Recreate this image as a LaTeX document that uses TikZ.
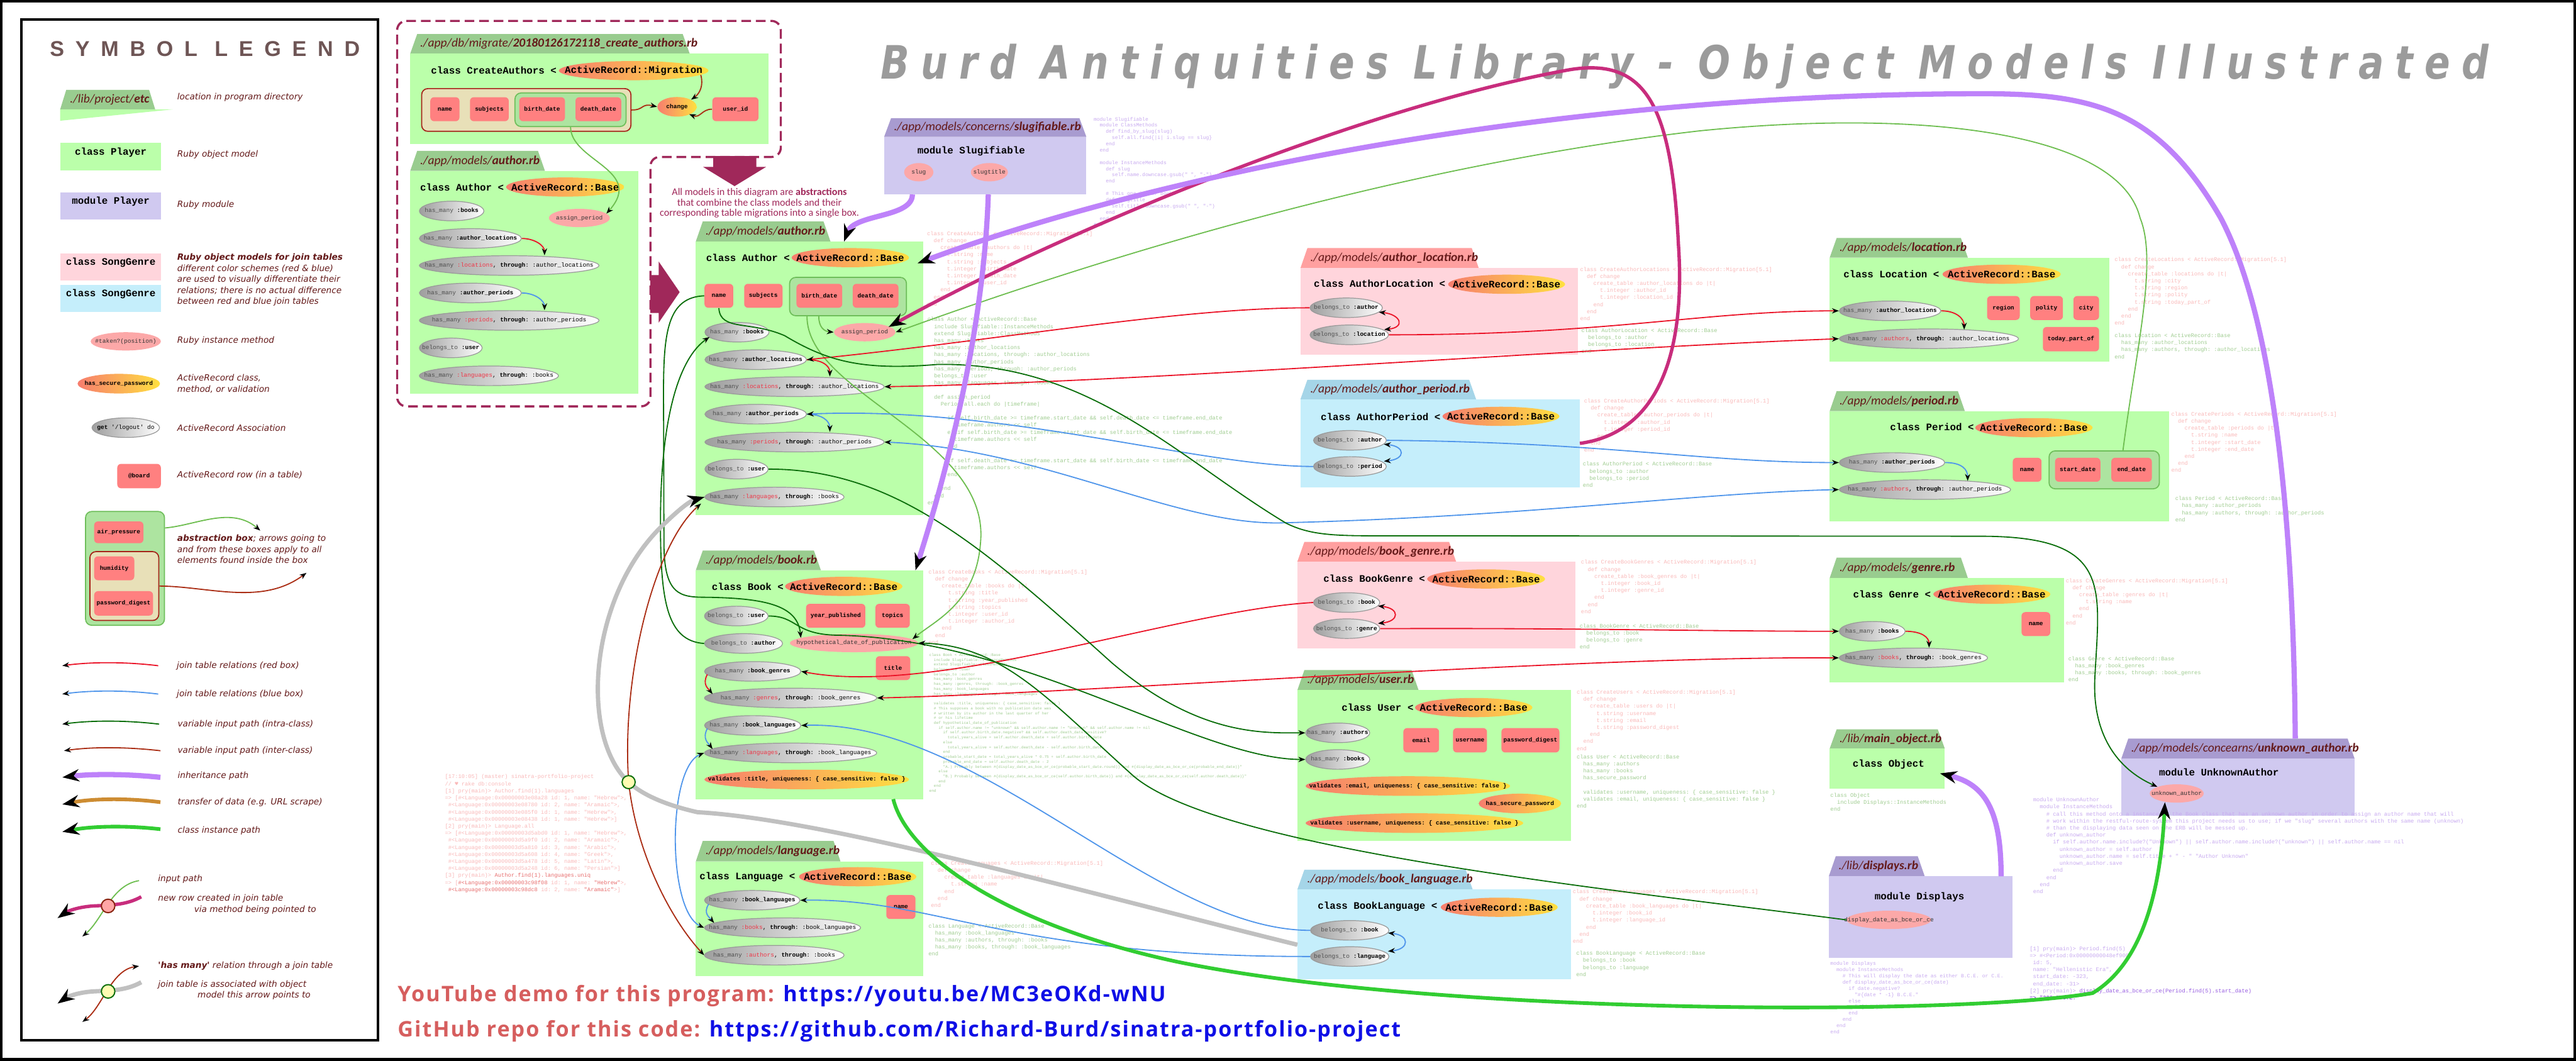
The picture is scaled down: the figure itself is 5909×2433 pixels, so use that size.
\documentclass[tikz,border=0pt]{standalone}
\usepackage{fontspec}
\setmainfont{DejaVu Sans}
\setmonofont{Liberation Mono}
\newfontfamily\tabfont{Carlito}
\newfontfamily\legfont{DejaVu Sans}
\newfontfamily\legtitlefont[LetterSpace=52]{Liberation Sans}
\newfontfamily\titlefont[FakeStretch=0.82,LetterSpace=25]{DejaVu Sans}
\newfontfamily\linkfont[LetterSpace=6]{Open Sans}
\newfontfamily\notefont{Carlito}
\newfontfamily\heartfont{DejaVu Sans Mono}
\usetikzlibrary{arrows.meta,shapes.geometric,positioning,calc}

\definecolor{tabgreen}{RGB}{153,204,143}
\definecolor{bodygreen}{RGB}{187,255,170}
\definecolor{tabpink}{RGB}{255,160,160}
\definecolor{bodypink}{RGB}{255,213,220}
\definecolor{tabblue}{RGB}{165,213,232}
\definecolor{bodyblue}{RGB}{197,238,251}
\definecolor{tabpurple}{RGB}{168,155,208}
\definecolor{bodypurple}{RGB}{208,201,240}
\definecolor{rowred}{RGB}{255,128,128}
\definecolor{methpink}{RGB}{252,168,168}
\definecolor{arsalmon}{RGB}{247,125,110}
\definecolor{aryellow}{RGB}{255,224,64}
\definecolor{absgreen}{RGB}{173,228,160}
\definecolor{absedge}{RGB}{110,190,90}
\definecolor{tanfill}{RGB}{232,224,184}
\definecolor{tanedge}{RGB}{165,35,25}
\definecolor{maroon}{RGB}{100,25,25}
\definecolor{wine}{RGB}{160,40,90}
\definecolor{joinred}{RGB}{235,20,40}
\definecolor{joinblue}{RGB}{80,150,235}
\definecolor{darkgr}{RGB}{10,110,10}
\definecolor{lightgr}{RGB}{110,190,80}
\definecolor{rust}{RGB}{170,45,20}
\definecolor{inhpurple}{RGB}{190,130,250}
\definecolor{amber}{RGB}{205,140,50}
\definecolor{instgreen}{RGB}{50,205,50}
\definecolor{rowmagenta}{RGB}{200,45,125}
\definecolor{assocgray}{RGB}{192,192,192}
\definecolor{kwgray}{RGB}{80,80,80}
\definecolor{codepink}{RGB}{250,185,185}
\definecolor{codepinkdark}{RGB}{232,110,110}
\definecolor{codegreen}{RGB}{160,205,145}
\definecolor{codepurple}{RGB}{200,170,240}
\definecolor{codepurpledark}{RGB}{150,90,225}
\definecolor{ytred}{RGB}{214,94,94}
\definecolor{urlblue}{RGB}{15,15,230}
\definecolor{titlegray}{RGB}{155,155,155}
\definecolor{legtitle}{RGB}{110,85,85}

\tikzset{
  tabtext/.style={font=\tabfont\itshape\fontsize{8}{9}\selectfont, text=maroon, inner sep=0pt},
  hdr/.style={font=\ttfamily\bfseries\fontsize{6.5}{7}\selectfont, inner sep=0pt},
  assoc/.style={ellipse, draw=black!40, line width=0.5pt, left color=black!38, right color=white, inner sep=0pt, minimum height=0.45cm},
  assoctxt/.style={font=\ttfamily\fontsize{3.9}{4.5}\selectfont, inner sep=0pt},
  arb/.style={ellipse, left color=arsalmon, right color=aryellow, inner sep=0pt, minimum height=0.44cm},
  arbtxt/.style={font=\ttfamily\bfseries\fontsize{6.5}{7}\selectfont, inner sep=0pt},
  arbsm/.style={ellipse, left color=arsalmon, right color=aryellow, inner sep=0pt, minimum height=0.45cm},
  arbsmtxt/.style={font=\ttfamily\bfseries\fontsize{3.9}{4.5}\selectfont, inner sep=0pt},
  meth/.style={ellipse, fill=methpink, inner sep=0pt, minimum height=0.42cm},
  methtxt/.style={font=\ttfamily\fontsize{3.9}{4.5}\selectfont, text=black!80, inner sep=0pt},
  rowbox/.style={rectangle, rounded corners=2.5pt, fill=rowred, inner sep=0pt, font=\ttfamily\bfseries\fontsize{3.9}{4.5}\selectfont},
  absbox/.style={rectangle, rounded corners=4pt, fill=absgreen, draw=absedge, line width=0.7pt, inner sep=0pt},
  tanbox/.style={rectangle, rounded corners=4pt, fill=tanfill, draw=tanedge, line width=0.7pt, inner sep=0pt},
  codetxt/.style={anchor=north west, align=left, inner sep=0pt, font=\ttfamily\fontsize{3.6}{4.6}\selectfont},
  codeslim/.style={anchor=north west, align=left, inner sep=0pt, font=\ttfamily\fontsize{3.3}{4.05}\selectfont},
  codesm/.style={anchor=north west, align=left, inner sep=0pt, font=\ttfamily\fontsize{2.5}{3.17}\selectfont},
  legtext/.style={anchor=west, inner sep=0pt, text=maroon, align=left, font=\legfont\itshape\fontsize{5.6}{7.2}\selectfont},
  redl/.style={draw=joinred, line width=0.75pt},
  bluel/.style={draw=joinblue, line width=0.75pt},
  dgrl/.style={draw=darkgr, line width=0.75pt},
  ltgl/.style={draw=lightgr, line width=0.75pt},
  rustl/.style={draw=rust, line width=0.75pt},
  inh/.style={draw=inhpurple, line width=3.4pt},
  scrape/.style={draw=amber, line width=2.4pt},
  inst/.style={draw=instgreen, line width=2.4pt},
  newrow/.style={draw=rowmagenta, line width=2.2pt},
  hasmany/.style={draw=assocgray, line width=2.8pt},
  arr/.style={-{Stealth[length=4.5pt,width=3.4pt,color=black]}},
  arrs/.style={{Stealth[length=4.5pt,width=3.4pt,color=black]}-},
  arrb/.style={{Stealth[length=4.5pt,width=3.4pt,color=black]}-{Stealth[length=4.5pt,width=3.4pt,color=black]}},
  bigarr/.style={-{Stealth[length=11pt,width=8pt,color=black]}}
}

% file tab: name, x left, x right, y top, y bottom, colour, text
\newcommand\ftab[7]{\fill[#6] (#2,#5) -- (#2+16,#4) -- (#3-16,#4) -- (#3,#5) -- cycle;
  \node[tabtext, anchor=west] (#1) at (#2+22,{(#4+#5)/2}) {#7};}
% class body: name, x1, y1, x2, y2, colour
\newcommand\panel[6]{\node[fill=#6, inner sep=0pt, outer sep=0pt, anchor=north west,
  minimum width={(#4-#2)*0.01cm}, minimum height={(#5-#3)*0.01cm}] (#1) at (#2,#3) {};}
% ellipse: style, name, x left, x right, y centre, text
\newcommand\ovalnode[6]{\node[#1, minimum width={(#4-#3)*0.01cm}] (#2) at ({(#3+#4)/2},#5) {};
  \node[#1txt] at (#2.center) {#6};}
% table row: name, x1, y1, x2, y2, text
\newcommand\rowcell[6]{\node[rowbox, minimum width={(#4-#2)*0.01cm}, minimum height={(#5-#3)*0.01cm}]
  (#1) at ({(#2+#4)/2},{(#3+#5)/2}) {#6};}
% abstraction box: name, x1, y1, x2, y2, style
\newcommand\abox[6]{\node[#6, anchor=north west, minimum width={(#4-#2)*0.01cm},
  minimum height={(#5-#3)*0.01cm}] (#1) at (#2,#3) {};}
\newcommand\hm{\textcolor{kwgray}{has\_many}}
\newcommand\bto{\textcolor{kwgray}{belongs\_to}}
\newcommand\sym[1]{\textbf{:#1}}
\newcommand\rs[1]{\textcolor{joinred!85}{:#1}}
\newcommand\thr{\textbf{through}:}
\newcommand\ind{\hspace*{1.2em}}

\begin{document}
\begin{tikzpicture}[x=0.01cm, y=-0.01cm]
\useasboundingbox (0,0) rectangle (5909,2433);
\fill[white] (0,0) rectangle (5909,2433);
\draw[line width=1.7pt] (3,3) rectangle (5906,2430);

% ---------------- legend ----------------
\draw[line width=1.8pt] (49,45) rectangle (867,2386);
\node[font=\legtitlefont\bfseries\fontsize{14}{14}\selectfont, text=legtitle] (legtitle) at (470,112) {SYMBOL LEGEND};

\fill[tabgreen] (138,251) -- (152,206) -- (342,206) -- (356,251) -- cycle;
\fill[bodygreen] (138,251) -- (396,251) -- (138,277) -- cycle;
\node[tabtext, anchor=west] (lg_tab) at (160,229) {./lib/project/\textbf{etc}};
\node[legtext] (ld_tab) at (406,223) {location in program directory};

\panel{lg_class}{138}{327}{370}{391}{bodygreen}
\node[hdr] at (254,349) {class Player};
\node[legtext] (ld_class) at (406,355) {Ruby object model};
\panel{lg_mod}{138}{441}{370}{504}{bodypurple}
\node[hdr] at (254,462) {module Player};
\node[legtext] (ld_mod) at (406,470) {Ruby module};
\panel{lg_pink}{138}{582}{370}{644}{bodypink}
\node[hdr] at (254,602) {class SongGenre};
\panel{lg_blue}{138}{654}{370}{716}{bodyblue}
\node[hdr] at (254,674) {class SongGenre};
\node[legtext, anchor=north west] (ld_join) at (406,581) {\textbf{Ruby object models for join tables}\\different color schemes (red \& blue)\\are used to visually differentiate their\\relations; there is no actual difference\\between red and blue join tables};

\ovalnode{meth}{lg_meth}{208}{369}{783}{\#taken?(position)}
\node[legtext] (ld_meth) at (406,781) {Ruby instance method};
\ovalnode{arbsm}{lg_ar}{178}{367}{880}{has\_secure\_password}
\node[legtext] (ld_ar) at (406,880) {ActiveRecord class,\\method, or validation};
\ovalnode{assoc}{lg_assoc}{211}{366}{981}{\textbf{get} '/logout' do}
\node[legtext] (ld_assoc) at (406,982) {ActiveRecord Association};
\rowcell{lg_row}{269}{1064}{369}{1120}{@board}
\node[legtext] (ld_row) at (406,1090) {ActiveRecord row (in a table)};

\abox{lg_abs}{195}{1172}{376}{1433}{absbox}
\rowcell{lg_air}{216}{1196}{329}{1246}{air\_pressure}
\abox{lg_tan}{205}{1264}{363}{1422}{tanbox}
\rowcell{lg_hum}{216}{1276}{308}{1331}{humidity}
\rowcell{lg_pw}{216}{1356}{351}{1412}{password\_digest}
\node[legtext, anchor=north west] (ld_abs) at (406,1226) {\textbf{abstraction box}; arrows going to\\and from these boxes apply to all\\elements found inside the box};
\draw[ltgl,arr] (lg_abs.east |- 0,1211) .. controls (450,1205) and (530,1160) .. (597,1217);
\draw[rustl,arr] (lg_tan.east) .. controls (480,1345) and (600,1390) .. (703,1314);

\draw[redl,arr] (363,1527) .. controls (290,1518) and (210,1518) .. (143,1527);
\node[legtext] (ld_red) at (405,1527) {join table relations (red box)};
\draw[bluel,arr] (363,1592) .. controls (290,1583) and (210,1583) .. (143,1592);
\node[legtext] (ld_blue) at (405,1592) {join table relations (blue box)};
\draw[dgrl,arr] (365,1661) .. controls (290,1652) and (210,1652) .. (143,1661);
\node[legtext] (ld_dgr) at (407,1661) {variable input path (intra-class)};
\draw[rustl,arr] (368,1722) .. controls (290,1713) and (210,1713) .. (147,1722);
\node[legtext] (ld_rust) at (407,1722) {variable input path (inter-class)};
\draw[inh,bigarr] (368,1783) .. controls (290,1775) and (210,1775) .. (143,1783);
\node[legtext] (ld_inh) at (407,1780) {inheritance path};
\draw[scrape,bigarr] (368,1840) .. controls (290,1830) and (210,1832) .. (143,1845);
\node[legtext] (ld_scrape) at (407,1841) {transfer of data (e.g. URL scrape)};
\draw[inst,bigarr] (368,1902) .. controls (290,1893) and (210,1895) .. (143,1908);
\node[legtext] (ld_inst) at (407,1906) {class instance path};

\draw[ltgl,arr] (319,2020) .. controls (255,2030) and (235,2110) .. (189,2148);
\draw[newrow,bigarr] (324,2057) .. controls (290,2076) and (255,2076) .. (215,2078) .. controls (180,2080) and (155,2090) .. (132,2106);
\node[circle, draw=rust!80!black, fill=rowred!70!white, line width=0.8pt, minimum width=0.31cm, minimum height=0.28cm, inner sep=0pt] (lg_c1) at (248,2078) {};
\node[legtext] (ld_in) at (362,2017) {input path};
\node[legtext, anchor=north west] (ld_nr) at (362,2051) {new row created in join table\\\hspace*{4.2em}via method being pointed to};

\draw[hasmany,bigarr] (324,2253) .. controls (290,2272) and (255,2272) .. (215,2274) .. controls (180,2276) and (155,2286) .. (132,2302);
\draw[rustl,arrb] (189,2344) .. controls (235,2310) and (255,2225) .. (319,2216);
\node[circle, draw=darkgr, fill=yellow!30!white, line width=0.8pt, minimum width=0.31cm, minimum height=0.28cm, inner sep=0pt] (lg_c2) at (248,2274) {};
\node[legtext] (ld_hm) at (362,2216) {\textbf{'has many'} relation through a join table};
\node[legtext, anchor=north west] (ld_hm2) at (362,2248) {join table is associated with object\\\hspace*{4.6em}model this arrow points to};

% ---------------- title and links ----------------
\node[font=\titlefont\bfseries\itshape\fontsize{30}{31}\selectfont, text=titlegray] (title) at (3865,152) {Burd Antiquities Library - Object Models Illustrated};
\node[anchor=base west, font=\linkfont\bfseries\fontsize{14}{16}\selectfont] (yt) at (900,2298) {\textcolor{ytred}{YouTube demo for this program:} \textcolor{urlblue}{https://youtu.be/MC3eOKd-wNU}};
\node[anchor=base west, font=\linkfont\bfseries\fontsize{14}{16}\selectfont] (gh) at (900,2378) {\textcolor{ytred}{GitHub repo for this code:} \textcolor{urlblue}{https://github.com/Richard-Burd/sinatra-portfolio-project}};

% ---------------- migration + old author (dashed group) ----------------
\draw[wine, line width=1.4pt, dash pattern=on 6.3pt off 3.2pt, rounded corners=6pt] (911,48) -- (1791,48) -- (1791,360) -- (1492,360) -- (1492,932) -- (911,932) -- cycle;
\fill[wine] (1636,358) -- (1735,358) -- (1735,383) -- (1757,383) -- (1685,427) -- (1613,383) -- (1636,383) -- cycle;
\fill[wine] (1492,631) -- (1511,631) -- (1511,600) -- (1559,670) -- (1511,740) -- (1511,718) -- (1492,718) -- cycle;
\node[font=\notefont\fontsize{6.6}{6.7}\selectfont, text=wine, align=center] (note) at (1742,466) {All models in this diagram are \textbf{abstractions}\\that combine the class models and their\\corresponding table migrations into a single box.};

\ftab{mg_tab}{941}{1582}{78}{123}{tabgreen}{./app/db/migrate/\textbf{20180126172118\_create\_authors.rb}}
\panel{mg}{941}{123}{1763}{330}{bodygreen}
\node[hdr, anchor=west] (mg_hdr) at (988,161) {class CreateAuthors <};
\ovalnode{arb}{mg_ar}{1282}{1625}{162}{ActiveRecord::Migration}
\abox{mg_tan}{966}{202}{1446}{300}{tanbox}
\rowcell{mg_name}{987}{223}{1054}{278}{name}
\rowcell{mg_subj}{1078}{223}{1167}{278}{subjects}
\abox{mg_abs}{1180}{212}{1435}{289}{absbox}
\rowcell{mg_birth}{1191}{223}{1296}{278}{birth\_date}
\rowcell{mg_death}{1320}{223}{1425}{278}{death\_date}
\ovalnode{arbsm}{mg_chg}{1508}{1598}{245}{change}
\rowcell{mg_uid}{1634}{223}{1740}{278}{user\_id}

\ftab{oa_tab}{941}{1250}{346}{392}{tabgreen}{./app/models/\textbf{author.rb}}
\panel{oa}{941}{392}{1464}{903}{bodygreen}
\node[hdr, anchor=west] (oa_hdr) at (963,429) {class Author <};
\ovalnode{arb}{oa_ar}{1161}{1432}{429}{ActiveRecord::Base}
\ovalnode{meth}{oa_asg}{1259}{1399}{500}{assign\_period}
\ovalnode{assoc}{oa_books}{962}{1110}{484}{\hm{} \sym{books}}
\ovalnode{assoc}{oa_al}{962}{1196}{547}{\hm{} \sym{author\_locations}}
\ovalnode{assoc}{oa_lt}{962}{1374}{609}{\hm{} \rs{locations}, \thr{} :author\_locations}
\ovalnode{assoc}{oa_ap}{962}{1196}{672}{\hm{} \sym{author\_periods}}
\ovalnode{assoc}{oa_pt}{962}{1374}{735}{\hm{} \rs{periods}, \thr{} :author\_periods}
\ovalnode{assoc}{oa_btu}{962}{1106}{798}{\bto{} \sym{user}}
\ovalnode{assoc}{oa_lb}{962}{1281}{862}{\hm{} \rs{languages}, \thr{} :books}

% ---------------- author.rb ----------------
\ftab{ma_tab}{1596}{1905}{508}{554}{tabgreen}{./app/models/\textbf{author.rb}}
\panel{ma}{1596}{554}{2118}{1182}{bodygreen}
\node[hdr, anchor=west] (ma_hdr) at (1619,591) {class Author <};
\ovalnode{arb}{ma_ar}{1816}{2085}{591}{ActiveRecord::Base}
\rowcell{ma_name}{1616}{651}{1682}{706}{name}
\rowcell{ma_subj}{1707}{651}{1795}{706}{subjects}
\abox{ma_abs}{1810}{635}{2078}{723}{absbox}
\rowcell{ma_birth}{1827}{651}{1932}{706}{birth\_date}
\rowcell{ma_death}{1956}{651}{2061}{706}{death\_date}
\ovalnode{meth}{ma_asg}{1913}{2054}{762}{assign\_period}
\ovalnode{assoc}{ma_books}{1617}{1764}{762}{\hm{} \sym{books}}
\ovalnode{assoc}{ma_al}{1617}{1850}{825}{\hm{} \sym{author\_locations}}
\ovalnode{assoc}{ma_lt}{1617}{2028}{887}{\hm{} \rs{locations}, \thr{} :author\_locations}
\ovalnode{assoc}{ma_ap}{1617}{1850}{950}{\hm{} \sym{author\_periods}}
\ovalnode{assoc}{ma_pt}{1617}{2028}{1014}{\hm{} \rs{periods}, \thr{} :author\_periods}
\ovalnode{assoc}{ma_btu}{1617}{1762}{1076}{\bto{} \sym{user}}
\ovalnode{assoc}{ma_lb}{1617}{1936}{1140}{\hm{} \rs{languages}, \thr{} :books}

% ---------------- book.rb ----------------
\ftab{bk_tab}{1596}{1883}{1263}{1308}{tabgreen}{./app/models/\textbf{book.rb}}
\panel{bk}{1596}{1308}{2118}{1833}{bodygreen}
\node[hdr, anchor=west] (bk_hdr) at (1632,1345) {class Book <};
\ovalnode{arb}{bk_ar}{1801}{2070}{1345}{ActiveRecord::Base}
\rowcell{bk_year}{1849}{1385}{1985}{1440}{year\_published}
\rowcell{bk_top}{2008}{1385}{2087}{1440}{topics}
\rowcell{bk_title}{2009}{1505}{2088}{1560}{title}
\ovalnode{assoc}{bk_btu}{1616}{1762}{1413}{\bto{} \sym{user}}
\ovalnode{assoc}{bk_bta}{1616}{1795}{1476}{\bto{} \sym{author}}
\ovalnode{meth}{hyp}{1812}{2106}{1475}{hypothetical\_date\_of\_publication}
\ovalnode{assoc}{bk_bg}{1616}{1837}{1540}{\hm{} \sym{book\_genres}}
\ovalnode{assoc}{bk_gt}{1616}{2011}{1601}{\hm{} \rs{genres}, \thr{} :book\_genres}
\ovalnode{assoc}{bk_bl}{1616}{1837}{1664}{\hm{} \sym{book\_languages}}
\ovalnode{assoc}{bk_lt}{1616}{2011}{1727}{\hm{} \rs{languages}, \thr{} :book\_languages}
\ovalnode{arbsm}{bk_val}{1616}{2085}{1788}{validates :title, uniqueness: \{ case\_sensitive: false \}}

% ---------------- language.rb ----------------
\ftab{lg_tab}{1596}{1928}{1929}{1976}{tabgreen}{./app/models/\textbf{language.rb}}
\panel{lg}{1596}{1976}{2118}{2239}{bodygreen}
\node[hdr, anchor=west] (lg_hdr) at (1604,2011) {class Language <};
\ovalnode{arb}{lg_ar}{1833}{2102}{2011}{ActiveRecord::Base}
\rowcell{lg_name}{2033}{2053}{2100}{2108}{name}
\ovalnode{assoc}{lg_bl}{1616}{1835}{2065}{\hm{} \sym{book\_languages}}
\ovalnode{assoc}{lg_bt}{1616}{1974}{2128}{\hm{} \rs{books}, \thr{} :book\_languages}
\ovalnode{assoc}{lg_at}{1616}{1936}{2191}{\hm{} \rs{authors}, \thr{} :books}

% ---------------- slugifiable.rb ----------------
\ftab{sl_tab}{2028}{2492}{271}{314}{tabpurple}{./app/models/concerns/\textbf{slugifiable.rb}}
\panel{sl}{2028}{314}{2492}{446}{bodypurple}
\node[hdr] (sl_hdr) at (2228,347) {module Slugifiable};
\ovalnode{meth}{sl_slug}{2074}{2141}{395}{slug}
\ovalnode{meth}{sl_title}{2227}{2312}{395}{slugtitle}

% ---------------- join tables ----------------
\ftab{al_tab}{2983}{3392}{569}{615}{tabpink}{./app/models/\textbf{author\_location.rb}}
\panel{al}{2983}{615}{3620}{813}{bodypink}
\node[hdr, anchor=west] (al_hdr) at (3013,651) {class AuthorLocation <};
\ovalnode{arb}{al_ar}{3322}{3590}{652}{ActiveRecord::Base}
\ovalnode{assoc}{al_bta}{3005}{3171}{706}{\bto{} \sym{author}}
\ovalnode{assoc}{al_btl}{3005}{3185}{768}{\bto{} \sym{location}}

\ftab{ap_tab}{2983}{3386}{871}{916}{tabblue}{./app/models/\textbf{author\_period.rb}}
\panel{ap}{2983}{916}{3624}{1118}{bodyblue}
\node[hdr, anchor=west] (ap_hdr) at (3029,956) {class AuthorPeriod <};
\ovalnode{arb}{ap_ar}{3309}{3577}{955}{ActiveRecord::Base}
\ovalnode{assoc}{ap_bta}{3013}{3180}{1010}{\bto{} \sym{author}}
\ovalnode{assoc}{ap_btp}{3013}{3180}{1070}{\bto{} \sym{period}}

\ftab{bg_tab}{2976}{3340}{1243}{1288}{tabpink}{./app/models/\textbf{book\_genre.rb}}
\panel{bg}{2976}{1288}{3614}{1487}{bodypink}
\node[hdr, anchor=west] (bg_hdr) at (3035,1327) {class BookGenre <};
\ovalnode{arb}{bg_ar}{3274}{3544}{1328}{ActiveRecord::Base}
\ovalnode{assoc}{bg_btb}{3013}{3165}{1382}{\bto{} \sym{book}}
\ovalnode{assoc}{bg_btg}{3013}{3165}{1442}{\bto{} \sym{genre}}

\ftab{us_tab}{2976}{3254}{1537}{1583}{tabgreen}{./app/models/\textbf{user.rb}}
\panel{us}{2976}{1583}{3604}{1929}{bodygreen}
\node[hdr, anchor=west] (us_hdr) at (3077,1623) {class User <};
\ovalnode{arb}{us_ar}{3246}{3515}{1623}{ActiveRecord::Base}
\ovalnode{assoc}{us_ha}{2995}{3142}{1681}{\hm{} \sym{authors}}
\ovalnode{assoc}{us_hb}{2995}{3142}{1742}{\hm{} \sym{books}}
\rowcell{us_email}{3219}{1670}{3301}{1726}{email}
\rowcell{us_user}{3333}{1670}{3411}{1726}{username}
\rowcell{us_pw}{3444}{1670}{3577}{1726}{password\_digest}
\ovalnode{arbsm}{us_ve}{2995}{3464}{1803}{validates :email, uniqueness: \{ case\_sensitive: false \}}
\ovalnode{arbsm}{us_sp}{3392}{3581}{1843}{has\_secure\_password}
\ovalnode{arbsm}{us_vu}{2995}{3494}{1888}{validates :username, uniqueness: \{ case\_sensitive: false \}}

\ftab{bl_tab}{2976}{3378}{1995}{2040}{tabblue}{./app/models/\textbf{book\_language.rb}}
\panel{bl}{2976}{2040}{3604}{2246}{bodyblue}
\node[hdr, anchor=west] (bl_hdr) at (3022,2080) {class BookLanguage <};
\ovalnode{arb}{bl_ar}{3305}{3573}{2081}{ActiveRecord::Base}
\ovalnode{assoc}{bl_btb}{3006}{3186}{2134}{\bto{} \sym{book}}
\ovalnode{assoc}{bl_btl}{3006}{3186}{2194}{\bto{} \sym{language}}

% ---------------- right column ----------------
\ftab{loc_tab}{4197}{4514}{546}{591}{tabgreen}{./app/models/\textbf{location.rb}}
\panel{loc}{4197}{591}{4839}{830}{bodygreen}
\node[hdr, anchor=west] (loc_hdr) at (4228,629) {class Location <};
\ovalnode{arb}{loc_ar}{4456}{4727}{629}{ActiveRecord::Base}
\rowcell{loc_reg}{4558}{679}{4633}{734}{region}
\rowcell{loc_pol}{4657}{679}{4732}{734}{polity}
\rowcell{loc_city}{4756}{679}{4815}{734}{city}
\rowcell{loc_today}{4686}{750}{4815}{806}{today\_part\_of}
\ovalnode{assoc}{loc_al}{4219}{4452}{713}{\hm{} \sym{author\_locations}}
\ovalnode{assoc}{loc_at}{4219}{4630}{777}{\hm{} \rs{authors}, \thr{} :author\_locations}

\ftab{pe_tab}{4197}{4507}{897}{943}{tabgreen}{./app/models/\textbf{period.rb}}
\panel{pe}{4197}{943}{4976}{1196}{bodygreen}
\node[hdr, anchor=west] (pe_hdr) at (4335,980) {class Period <};
\ovalnode{arb}{pe_ar}{4531}{4800}{981}{ActiveRecord::Base}
\ovalnode{assoc}{pe_ap}{4219}{4461}{1061}{\hm{} \sym{author\_periods}}
\ovalnode{assoc}{pe_at}{4219}{4612}{1123}{\hm{} \rs{authors}, \thr{} :author\_periods}
\rowcell{pe_name}{4617}{1050}{4683}{1105}{name}
\abox{pe_abs}{4699}{1033}{4952}{1120}{absbox}
\rowcell{pe_start}{4714}{1050}{4818}{1105}{start\_date}
\rowcell{pe_end}{4843}{1050}{4936}{1105}{end\_date}

\ftab{gn_tab}{4197}{4514}{1279}{1326}{tabgreen}{./app/models/\textbf{genre.rb}}
\panel{gn}{4197}{1326}{4734}{1565}{bodygreen}
\node[hdr, anchor=west] (gn_hdr) at (4250,1363) {class Genre <};
\ovalnode{arb}{gn_ar}{4435}{4703}{1363}{ActiveRecord::Base}
\rowcell{gn_name}{4637}{1404}{4703}{1459}{name}
\ovalnode{assoc}{gn_b}{4219}{4370}{1448}{\hm{} \sym{books}}
\ovalnode{assoc}{gn_bt}{4219}{4559}{1509}{\hm{} \rs{books}, \thr{} :book\_genres}

\ftab{ob_tab}{4197}{4461}{1673}{1717}{tabgreen}{./lib/\textbf{main\_object.rb}}
\panel{ob}{4197}{1717}{4461}{1809}{bodygreen}
\node[hdr] (ob_hdr) at (4332,1753) {class Object};

\ftab{ua_tab}{4866}{5401}{1694}{1740}{tabpurple}{./app/models/concearns/\textbf{unknown\_author.rb}}
\panel{ua}{4866}{1740}{5401}{1871}{bodypurple}
\node[hdr, anchor=west] (ua_hdr) at (4952,1772) {module UnknownAuthor};
\ovalnode{meth}{ua_m}{4931}{5055}{1820}{unknown\_author}

\ftab{ds_tab}{4195}{4415}{1964}{2010}{tabpurple}{./lib/\textbf{displays.rb}}
\panel{ds}{4195}{2010}{4617}{2197}{bodypurple}
\node[hdr] (ds_hdr) at (4403,2058) {module Displays};
\ovalnode{meth}{ds_dd}{4236}{4430}{2110}{display\_date\_as\_bce\_or\_ce}

% ---------------- faint source code ----------------
\node[codeslim, text=codepurple] (c_slug) at (2508,268) {module Slugifiable\\\ind module ClassMethods\\\ind\ind def find\_by\_slug(slug)\\\ind\ind\ind self.all.find\{|i| i.slug == slug\}\\\ind\ind end\\\ind end\\\mbox{}\\\ind module InstanceMethods\\\ind\ind def slug\\\ind\ind\ind self.name.downcase.gsub(" ", "-")\\\ind\ind end\\\mbox{}\\\ind\ind \# This one is for books\\\ind\ind def slugtitle\\\ind\ind\ind self.title.downcase.gsub(" ", "-")\\\ind\ind end\\\ind end\\end};
\node[codetxt, text=codepink] (c_amig) at (2126,530) {class CreateAuthors < ActiveRecord::Migration[5.1]\\\ind def change\\\ind\ind create\_table :authors do |t|\\\ind\ind\ind t.string :name\\\ind\ind\ind t.string :subjects\\\ind\ind\ind t.integer :birth\_date\\\ind\ind\ind t.integer :death\_date\\\ind\ind\ind t.integer :user\_id\\\ind\ind end\\\ind end\\end};
\node[codetxt, text=codegreen] (c_acls) at (2127,727) {class Author < ActiveRecord::Base\\\ind include Slugifiable::InstanceMethods\\\ind extend Slugifiable::ClassMethods\\\ind has\_many :books\\\ind has\_many :author\_locations\\\ind has\_many :locations, through: :author\_locations\\\ind has\_many :author\_periods\\\ind has\_many :periods, through: :author\_periods\\\ind belongs\_to :user\\\ind has\_many :languages, through: :books\\\mbox{}\\\ind def assign\_period\\\ind\ind Period.all.each do |timeframe|\\\mbox{}\\\ind\ind\ind if self.birth\_date >= timeframe.start\_date \&\& self.death\_date <= timeframe.end\_date\\\ind\ind\ind\ind timeframe.authors << self\\\ind\ind\ind elsif self.birth\_date >= timeframe.start\_date \&\& self.birth\_date <= timeframe.end\_date\\\ind\ind\ind\ind timeframe.authors << self\\\ind\ind\ind end\\\mbox{}\\\ind\ind\ind if self.death\_date >= timeframe.start\_date \&\& self.birth\_date <= timeframe.end\_date\\\ind\ind\ind\ind timeframe.authors << self\\\ind\ind\ind end\\\mbox{}\\\ind\ind end\\\ind end\\end};
\node[codetxt, text=codepink] (c_bmig) at (2129,1306) {class CreateBooks < ActiveRecord::Migration[5.1]\\\ind def change\\\ind\ind create\_table :books do |t|\\\ind\ind\ind t.string :title\\\ind\ind\ind t.string :year\_published\\\ind\ind\ind t.string :topics\\\ind\ind\ind t.integer :user\_id\\\ind\ind\ind t.integer :author\_id\\\ind\ind end\\\ind end\\end};
\node[codesm, text=codegreen] (c_bcls) at (2131,1498) {class Book < ActiveRecord::Base\\\ind include Slugifiable::InstanceMethods\\\ind extend Slugifiable::ClassMethods\\\ind belongs\_to :user\\\ind belongs\_to :author\\\ind has\_many :book\_genres\\\ind has\_many :genres, through: :book\_genres\\\ind has\_many :book\_languages\\\ind has\_many :languages, through: :book\_languages\\\mbox{}\\\ind validates :title, uniqueness: \{ case\_sensitive: false \}\\\ind \# This supposes a book with no publication date was\\\ind \# written by its author in the last quarter of her\\\ind \# or his lifetime\\\ind def hypothetical\_date\_of\_publication\\\ind\ind if self.author.name != "unknown" \&\& self.author.name != "Unknown" \&\& self.author.name != nil\\\ind\ind\ind if self.author.birth\_date.negative? \&\& self.author.death\_date.positive?\\\ind\ind\ind\ind total\_years\_alive = self.author.death\_date + self.author.birth\_date\\\ind\ind\ind else\\\ind\ind\ind\ind total\_years\_alive = self.author.death\_date - self.author.birth\_date\\\ind\ind\ind end\\\ind\ind\ind probable\_start\_date = total\_years\_alive * 0.75 + self.author.birth\_date\\\ind\ind\ind probable\_end\_date = self.author.death\_date - 2\\\ind\ind\ind "A.) Probably between \#\{display\_date\_as\_bce\_or\_ce(probable\_start\_date.round)\} and \#\{display\_date\_as\_bce\_or\_ce(probable\_end\_date)\}"\\\ind\ind else\\\ind\ind\ind "B.) Probably between \#\{display\_date\_as\_bce\_or\_ce(self.author.birth\_date)\} and \#\{display\_date\_as\_bce\_or\_ce(self.author.death\_date)\}"\\\ind\ind end\\\ind end\\end};
\node[codetxt, text=codepink] (c_lmig) at (2135,1974) {class CreateLanguages < ActiveRecord::Migration[5.1]\\\ind def change\\\ind\ind create\_table :languages do |t|\\\ind\ind\ind t.string :name\\\ind\ind end\\\ind end\\end};
\node[codetxt, text=codegreen] (c_lcls) at (2129,2118) {class Language < ActiveRecord::Base\\\ind has\_many :book\_languages\\\ind has\_many :authors, through: :books\\\ind has\_many :books, through: :book\_languages\\end};
\node[codetxt, text=codepink] (c_pry) at (1020,1776) {{}[17:10:05] (master) sinatra-portfolio-project\\// {\heartfont ♥} rake db:console\\{}[1] pry(main)> Author.find(1).languages\\=> [\#<Language:0x00000003e08a28 id: 1, name: "Hebrew">,\\\hspace*{0.6em}\#<Language:0x00000003e08780 id: 2, name: "Aramaic">,\\\hspace*{0.6em}\#<Language:0x00000003e085f0 id: 1, name: "Hebrew">,\\\hspace*{0.6em}\#<Language:0x00000003e08438 id: 1, name: "Hebrew">]\\{}[2] pry(main)> Language.all\\=> [\#<Language:0x00000003d5abd0 id: 1, name: "Hebrew">,\\\hspace*{0.6em}\#<Language:0x00000003d5a9f0 id: 2, name: "Aramaic">,\\\hspace*{0.6em}\#<Language:0x00000003d5a810 id: 3, name: "Arabic">,\\\hspace*{0.6em}\#<Language:0x00000003d5a608 id: 4, name: "Greek">,\\\hspace*{0.6em}\#<Language:0x00000003d5a478 id: 5, name: "Latin">,\\\hspace*{0.6em}\#<Language:0x00000003d5a248 id: 6, name: "Persian">]\\{}[3] pry(main)> \textcolor{codepinkdark}{Author.find(1).languages.uniq}\\=> [\textcolor{codepinkdark}{\#<Language:0x00000003c98f08} id: 1, name: \textcolor{codepinkdark}{"Hebrew"}>,\\\hspace*{0.6em}\textcolor{codepinkdark}{\#<Language:0x00000003c98dc8} id: 2, name: \textcolor{codepinkdark}{"Aramaic"}>]};
\node[codetxt, text=codepink] (c_almig) at (3624,612) {class CreateAuthorLocations < ActiveRecord::Migration[5.1]\\\ind def change\\\ind\ind create\_table :author\_locations do |t|\\\ind\ind\ind t.integer :author\_id\\\ind\ind\ind t.integer :location\_id\\\ind\ind end\\\ind end\\end};
\node[codetxt, text=codegreen] (c_alcls) at (3627,752) {class AuthorLocation < ActiveRecord::Base\\\ind belongs\_to :author\\\ind belongs\_to :location\\end};
\node[codetxt, text=codepink] (c_apmig) at (3633,914) {class CreateAuthorPeriods < ActiveRecord::Migration[5.1]\\\ind def change\\\ind\ind create\_table :author\_periods do |t|\\\ind\ind\ind t.integer :author\_id\\\ind\ind\ind t.integer :period\_id\\\ind\ind end\\\ind end\\end};
\node[codetxt, text=codegreen] (c_apcls) at (3630,1059) {class AuthorPeriod < ActiveRecord::Base\\\ind belongs\_to :author\\\ind belongs\_to :period\\end};
\node[codetxt, text=codepink] (c_bgmig) at (3626,1284) {class CreateBookGenres < ActiveRecord::Migration[5.1]\\\ind def change\\\ind\ind create\_table :book\_genres do |t|\\\ind\ind\ind t.integer :book\_id\\\ind\ind\ind t.integer :genre\_id\\\ind\ind end\\\ind end\\end};
\node[codetxt, text=codegreen] (c_bgcls) at (3623,1430) {class BookGenre < ActiveRecord::Base\\\ind belongs\_to :book\\\ind belongs\_to :genre\\end};
\node[codetxt, text=codepink] (c_usmig) at (3616,1582) {class CreateUsers < ActiveRecord::Migration[5.1]\\\ind def change\\\ind\ind create\_table :users do |t|\\\ind\ind\ind t.string :username\\\ind\ind\ind t.string :email\\\ind\ind\ind t.string :password\_digest\\\ind\ind end\\\ind end\\end};
\node[codetxt, text=codegreen] (c_uscls) at (3616,1730) {class User < ActiveRecord::Base\\\ind has\_many :authors\\\ind has\_many :books\\\ind has\_secure\_password\\\mbox{}\\\ind validates :username, uniqueness: \{ case\_sensitive: false \}\\\ind validates :email, uniqueness: \{ case\_sensitive: false \}\\end};
\node[codetxt, text=codepink] (c_blmig) at (3607,2040) {class CreateBookLanguages < ActiveRecord::Migration[5.1]\\\ind def change\\\ind\ind create\_table :book\_languages do |t|\\\ind\ind\ind t.integer :book\_id\\\ind\ind\ind t.integer :language\_id\\\ind\ind end\\\ind end\\end};
\node[codetxt, text=codegreen] (c_blcls) at (3615,2181) {class BookLanguage < ActiveRecord::Base\\\ind belongs\_to :book\\\ind belongs\_to :language\\end};
\node[codetxt, text=codepink] (c_locmig) at (4850,590) {class CreateLocations < ActiveRecord::Migration[5.1]\\\ind def change\\\ind\ind create\_table :locations do |t|\\\ind\ind\ind t.string :city\\\ind\ind\ind t.string :region\\\ind\ind\ind t.string :polity\\\ind\ind\ind t.string :today\_part\_of\\\ind\ind end\\\ind end\\end};
\node[codetxt, text=codegreen] (c_loccls) at (4850,764) {class Location < ActiveRecord::Base\\\ind has\_many :author\_locations\\\ind has\_many :authors, through: :author\_locations\\end};
\node[codetxt, text=codepink] (c_pemig) at (4980,944) {class CreatePeriods < ActiveRecord::Migration[5.1]\\\ind def change\\\ind\ind create\_table :periods do |t|\\\ind\ind\ind t.string :name\\\ind\ind\ind t.integer :start\_date\\\ind\ind\ind t.integer :end\_date\\\ind\ind end\\\ind end\\end};
\node[codetxt, text=codegreen] (c_pecls) at (4989,1138) {class Period < ActiveRecord::Base\\\ind has\_many :author\_periods\\\ind has\_many :authors, through: :author\_periods\\end};
\node[codetxt, text=codepink] (c_gnmig) at (4738,1326) {class CreateGenres < ActiveRecord::Migration[5.1]\\\ind def change\\\ind\ind create\_table :genres do |t|\\\ind\ind\ind t.string :name\\\ind\ind end\\\ind end\\end};
\node[codetxt, text=codegreen] (c_gncls) at (4744,1505) {class Genre < ActiveRecord::Base\\\ind has\_many :book\_genres\\\ind has\_many :books, through: :book\_genres\\end};
\node[codetxt, text=codegreen] (c_obcls) at (4198,1818) {class Object\\\ind include Displays::InstanceMethods\\end};
\node[codetxt, text=codepurple] (c_ua) at (4663,1829) {module UnknownAuthor\\\ind module InstanceMethods\\\ind\ind \# call this method onto a instance of the Book class that has an unknown author in order to assign an author name that will\\\ind\ind \# work within the restful-route-system this project needs us to use; if we "slug" several authors with the same name (unknown)\\\ind\ind \# than the displaying data seen on the ERB will be messed up.\\\ind\ind def unknown\_author\\\ind\ind\ind if self.author.name.include?("Unknown") || self.author.name.include?("unknown") || self.author.name == nil\\\ind\ind\ind\ind unknown\_author = self.author\\\ind\ind\ind\ind unknown\_author.name = self.title + " - " "Author Unknown"\\\ind\ind\ind\ind unknown\_author.save\\\ind\ind\ind end\\\ind\ind end\\\ind end\\end};
\node[codeslim, text=codepurple] (c_ds) at (4198,2205) {module Displays\\\ind module InstanceMethods\\\ind\ind \# This will display the date as either B.C.E. or C.E.\\\ind\ind def display\_date\_as\_bce\_or\_ce(date)\\\ind\ind\ind if date.negative?\\\ind\ind\ind\ind "\#\{date * -1\} B.C.E."\\\ind\ind\ind else\\\ind\ind\ind\ind "\#\{date\} C.E."\\\ind\ind\ind end\\\ind\ind end\\\ind end\\end};
\node[codetxt, text=codepurple] (c_dspry) at (4655,2170) {{}[1] pry(main)> Period.find(5)\\=> \#<Period:0x00000000048ef900\\\hspace*{0.6em}id: 5,\\\hspace*{0.6em}name: "Hellenistic Era",\\\hspace*{0.6em}start\_date: -323,\\\hspace*{0.6em}end\_date: -31>\\{}[2] pry(main)> \textcolor{codepurpledark}{display\_date\_as\_bce\_or\_ce(Period.find(5).start\_date)}\\\textcolor{codepurpledark}{\textbf{=> "323 B.C.E."}}};

% ---------------- connectors ----------------
% migration
\draw[rustl,arr] (mg_tan.east) .. controls (1478,253) and (1470,236) .. (mg_chg.west);
\draw[rustl,arr] ([shift={(154,10)}]mg_ar.center) .. controls (1614,195) and (1606,214) .. (mg_chg.north east);
\draw[rustl,arr] (mg_uid.west) .. controls (1610,250) and (1606,272) .. ([shift={(28,17)}]mg_chg.center);
\draw[ltgl,arr] (mg_abs.south) .. controls (1310,370) and (1480,390) .. ([shift={(62,-10)}]oa_asg.center);
\draw[redl,arr] (oa_al.east) .. controls +(30,0) and +(0,-22) .. ([xshift=0.81cm]oa_lt.north);
\draw[bluel,arr] (oa_ap.east) .. controls +(30,0) and +(0,-22) .. ([xshift=0.81cm]oa_pt.north);

% intra-class
\draw[redl,arr] (ma_al.east) .. controls +(35,0) and +(0,-25) .. ([xshift=0.81cm]ma_lt.north);
\draw[bluel,arr] (ma_ap.east) .. controls +(35,0) and +(0,-25) .. ([xshift=0.81cm]ma_pt.north);
\draw[ltgl,arr] ([xshift=-0.67cm]ma_abs.south) .. controls (1878,750) and (1890,760) .. (ma_asg.west);
\draw[ltgl,arr] ([xshift=-0.94cm]ma_abs.south) .. controls (1850,900) and (2255,1000) .. (2250,1230) .. controls (2245,1380) and (2150,1420) .. ([shift={(134,-9)}]hyp.center);
\draw[redl,arr] ([shift={(-104,7)}]bk_bg.center) .. controls (1610,1570) and (1625,1580) .. ([shift={(-179,-9)}]bk_gt.center);
\draw[bluel,arr] ([shift={(-104,7)}]bk_bl.center) .. controls (1610,1695) and (1625,1705) .. ([shift={(-179,-9)}]bk_lt.center);
\draw[bluel,arr] ([shift={(-100,9)}]lg_bl.center) .. controls (1612,2095) and (1628,2105) .. ([shift={(-157,-11)}]lg_bt.center);
\draw[redl,arr] (loc_al.east) .. controls +(35,0) and +(0,-25) .. ([shift={(81,-21)}]loc_at.center);
\draw[bluel,arr] (pe_ap.east) .. controls +(40,0) and +(0,-25) .. ([shift={(98,-20)}]pe_at.center);
\draw[redl,arr] (gn_b.east) .. controls +(35,0) and +(0,-25) .. ([xshift=0.36cm]gn_bt.north);
\draw[redl,arrb] ([shift={(75,10)}]al_bta.center) .. controls +(50,5) and +(50,-5) .. ([shift={(80,-12)}]al_btl.center);
\draw[bluel,arrb] ([shift={(78,9)}]ap_bta.center) .. controls +(50,5) and +(50,-5) .. ([shift={(78,-12)}]ap_btp.center);
\draw[redl,arrb] ([shift={(72,8)}]bg_btb.center) .. controls +(50,5) and +(50,-5) .. ([shift={(72,-12)}]bg_btg.center);
\draw[bluel,arrb] ([shift={(88,6)}]bl_btb.center) .. controls +(50,5) and +(50,-5) .. ([shift={(88,-12)}]bl_btl.center);

% join table relations
\draw[redl,arrs] (ma_al.east) .. controls (2300,780) and (2700,706) .. (al_bta.west);
\draw[redl,arr] (al_btl.east) .. controls (3700,768) and (3900,713) .. (loc_al.west);
\draw[redl,arrb] (ma_lt.east) .. controls (2600,878) and (3600,800) .. (loc_at.west);
\draw[redl,arrs] (bk_bg.east) .. controls (2150,1600) and (2700,1400) .. (bg_btb.west);
\draw[redl,arr] (bg_btg.east) .. controls (3600,1440) and (3900,1448) .. (gn_b.west);
\draw[redl,arrb] (bk_gt.east) .. controls (2500,1590) and (3600,1505) .. (gn_bt.west);
\draw[bluel,arrs] (ma_ap.east) .. controls (2300,930) and (2750,1070) .. (ap_btp.west);
\draw[bluel,arr] (ap_bta.east) .. controls (3700,1015) and (3900,1061) .. (pe_ap.west);
\draw[bluel,arrb] (ma_pt.east) .. controls (2400,1030) and (2700,1210) .. (2950,1199) .. controls (3500,1185) and (3900,1130) .. (pe_at.west);
\draw[bluel,arrs] (bk_bl.east) .. controls (2250,1650) and (2650,2134) .. (bl_btb.west);
\draw[bluel,arrs] (lg_bl.east) .. controls (2150,2060) and (2300,2194) .. (bl_btl.west);
\draw[bluel,arrb] (bk_lt.west) .. controls (1530,1760) and (1530,2090) .. (lg_bt.west);

% variable input paths
\draw[dgrl,arr] (bk_bta.west) .. controls (1530,1470) and (1515,1380) .. (1515,1200) .. controls (1515,950) and (1560,820) .. ([shift={(-63,11)}]ma_books.center);
\draw[dgrl,arr] (ma_name.west) .. controls (1532,682) and (1522,760) .. (1522,900) -- (1523,1250) .. controls (1524,1365) and (1560,1370) .. (1620,1370) .. controls (1760,1372) and (1830,1390) .. ([shift={(-122,-12)}]hyp.center);
\draw[dgrl,arr] (ma_name.south) .. controls (1652,760) and (1720,735) .. (1800,770) .. controls (1900,830) and (1980,850) .. (2150,836) .. controls (2500,830) and (2700,1050) .. (2950,1200) .. controls (3000,1225) and (3050,1229) .. (3150,1229) -- (4550,1230) .. controls (4850,1232) and (4815,1350) .. (4805,1560) .. controls (4800,1700) and (4870,1770) .. (ua_m.north west);
\draw[dgrl,arr] (ma_btu.east) .. controls (2050,1076) and (2250,1250) .. (2550,1520) .. controls (2750,1690) and (2900,1681) .. (us_ha.west);
\draw[dgrl,arr] (bk_btu.east) .. controls (1830,1413) and (1820,1455) .. (1920,1457) .. controls (2350,1465) and (2750,1742) .. (us_hb.west);
\draw[dgrl,arr] (ds_dd.west) .. controls (3700,2040) and (2800,1950) .. (2600,1780) .. controls (2400,1600) and (2300,1480) .. (hyp.east);
\draw[ltgl,arr] ([xshift=0.43cm]pe_abs.north) .. controls (4900,800) and (4950,600) .. (4909,500) .. controls (4860,300) and (4400,250) .. (3900,300) .. controls (3200,380) and (2500,600) .. (ma_asg.east);

% has many through a join table
\draw[hasmany,bigarr] ([yshift=-0.24cm]bl.west) .. controls (2500,2050) and (1900,1880) .. (1600,1863) .. controls (1520,1845) and (1470,1820) .. (1442,1794) .. controls (1330,1690) and (1350,1380) .. (1510,1215) .. controls (1550,1175) and (1580,1150) .. (ma_lb.west);
\draw[rustl,arrb] ([shift={(-8,15)}]ma_lb.west) .. controls (1500,1250) and (1425,1550) .. (1442,1794) .. controls (1460,1960) and (1540,2110) .. (lg_at.west);
\node[circle, draw=darkgr, fill=yellow!30!white, line width=0.8pt, minimum size=0.3cm, inner sep=0pt] (xing) at (1442,1794) {};

% new row created in join table
\draw[newrow,bigarr] (ap.east) .. controls (3820,990) and (3865,780) .. (3850,560) .. controls (3835,250) and (3780,130) .. (3600,160) .. controls (3100,250) and (2400,550) .. ([shift={(55,-12)}]ma_asg.center);

% inheritance
\draw[inh,bigarr] ([xshift=-1.67cm]sl.south) .. controls (2093,500) and (1960,490) .. ([xshift=3.4cm]ma.north west);
\draw[inh,bigarr] ([xshift=0.07cm]sl.south) .. controls (2255,800) and (2150,1150) .. ([xshift=-0.18cm]bk.north east);
\draw[inh,bigarr] ([shift={(399,-46)}]ua.north west) .. controls (5260,1100) and (5200,700) .. (5094,500) .. controls (4950,250) and (4800,215) .. (4550,215) .. controls (3500,215) and (2600,420) .. ([shift={(19,13)}]ma_ar.east);
\draw[inh,bigarr] ([xshift=3.95cm]ds.north west) .. controls (4590,1870) and (4560,1800) .. ([shift={(-11,-35)}]ob.south east);

% class instance
\draw[inst,bigarr] ([xshift=-0.69cm]bk.south east) .. controls (2080,1960) and (2300,2120) .. (2700,2206) .. controls (3300,2330) and (4500,2330) .. (4800,2278) .. controls (4930,2200) and (4958,2000) .. ([shift={(-27,20)}]ua_m.center);
\end{tikzpicture}
\end{document}
